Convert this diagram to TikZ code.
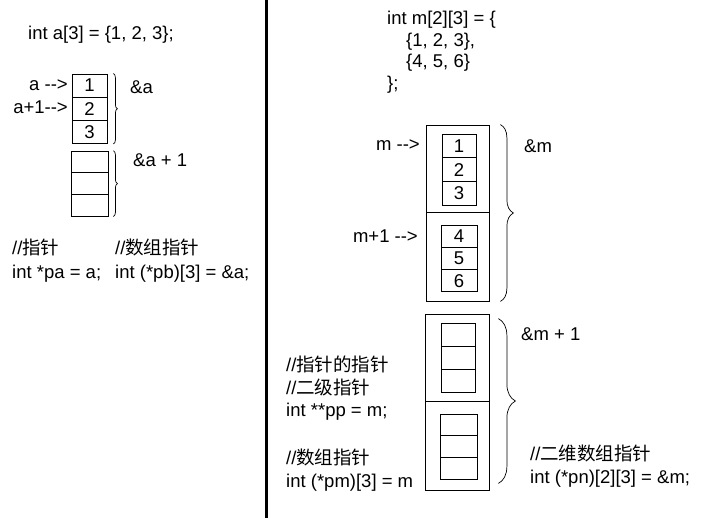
\documentclass[tikz,border=0pt]{standalone}
\usepackage{fontspec}
\setmainfont{Liberation Sans}
\newfontfamily\cjk{Noto Sans CJK SC}
\usetikzlibrary{calc, decorations.pathreplacing}
\newcommand{\codefont}{\fontsize{18.5pt}{22pt}\selectfont}
\newcommand{\ptrarrow}{\mbox{-}\mbox{-}>}
\tikzset{
    cellbox/.style={rectangle, draw, line width=0.8pt, minimum width=35pt,
        minimum height=23pt, inner sep=0pt, font=\codefont},
    rowbox/.style={rectangle, draw, line width=0.8pt, minimum width=63pt, inner sep=0pt},
    codetext/.style={anchor=base west, inner sep=0pt, font=\codefont},
    ptrtext/.style={anchor=base east, inner sep=0pt, font=\codefont},
    bracedeco/.style={decorate, decoration={brace, amplitude=#1}, line width=0.7pt},
}

\begin{document}
\begin{tikzpicture}[x=1pt, y=-1pt]
    \useasboundingbox (0,0) rectangle (704,518);
    \coordinate (divtop) at (266,0);
    \coordinate (divbot) at (266,518);
    \draw[line width=3pt] (divtop) -- (divbot);

    % one-dimensional array
    \node[codetext] (adecl) at (28,39.5) {int a[3] = \{1, 2, 3\};};
    \foreach \v [count=\i] in {1,2,3}
        \node[cellbox] (a\i) at (89.5, 62.2+23.3*\i) {\v};
    \foreach \i in {1,2,3}
        \node[cellbox, minimum width=37pt, minimum height=21.7pt] (b\i) at (89.5, 140.2+21.7*\i) {};
    \node[ptrtext] (aptr) at (68,90.5) {a \ptrarrow};
    \node[ptrtext] (aptrnext) at (68,114) {a+1\ptrarrow};
    \draw[bracedeco=4pt] ($(a1.north east)+(6,0)$) -- ($(a3.south east)+(6,0)$);
    \draw[bracedeco=4pt] ($(b1.north east)+(5,0)$) -- ($(b3.south east)+(5,0)$);
    \node[codetext] (aaddr) at (130,93.5) {\&a};
    \node[codetext] (aaddrnext) at (133,166.5) {\&a + 1};
    \node[codetext] (pacmt) at (12,254.5) {//{\cjk 指针}};
    \node[codetext] (pa) at (12,278.5) {int *pa = a;};
    \node[codetext] (pbcmt) at (115,254.5) {//{\cjk 数组指针}};
    \node[codetext] (pb) at (115,278.5) {int (*pb)[3] = \&a;};

    % two-dimensional array
    \node[codetext] (mdecl) at (387,24.5) {int m[2][3] = \{};
    \node[codetext] (mrow1) at (406,46.5) {\{1, 2, 3\},};
    \node[codetext] (mrow2) at (406,67.5) {\{4, 5, 6\}};
    \node[codetext] (mend) at (387,89.5) {\};};
    \node[rowbox, minimum height=87pt] (m1) at (457.5,168.5) {};
    \node[rowbox, minimum height=89pt] (m2) at (457.5,256.5) {};
    \foreach \v [count=\i] in {1,2,3}
        \node[cellbox, minimum width=34pt, minimum height=23.7pt] (r\i) at (459, 122.2+23.7*\i) {\v};
    \foreach \v [count=\i] in {4,5,6}
        \node[cellbox, minimum width=36pt, minimum height=22.3pt] (s\i) at (459, 213.85+22.3*\i) {\v};
    \node[ptrtext] (mptr) at (420,150.5) {m \ptrarrow};
    \node[ptrtext] (mptrnext) at (418,242.5) {m+1 \ptrarrow};
    \draw[bracedeco=13pt] ($(m1.north east)+(11,0)$) -- ($(m2.south east)+(11,0)$);
    \node[codetext] (maddr) at (524,152.5) {\&m};

    % next block
    \node[rowbox, minimum width=64pt, minimum height=87pt] (n1) at (457,357.5) {};
    \node[rowbox, minimum width=64pt, minimum height=89pt] (n2) at (457,445.5) {};
    \foreach \i in {1,2,3}
        \node[cellbox, minimum width=34pt, minimum height=23.3pt] (t\i) at (458, 311.35+23.3*\i) {};
    \foreach \i in {1,2,3}
        \node[cellbox, minimum width=37pt, minimum height=21.7pt] (u\i) at (458.5, 403.15+21.7*\i) {};
    \draw[bracedeco=17pt] ($(n1.north east)+(9,5)$) -- ($(n2.south east)+(9,-7)$);
    \node[codetext] (maddrnext) at (521,340.5) {\&m + 1};
    \node[codetext] (ppcmt1) at (286,371.5) {//{\cjk 指针的指针}};
    \node[codetext] (ppcmt2) at (286,394.5) {//{\cjk 二级指针}};
    \node[codetext] (pp) at (286,416.5) {int **pp = m;};
    \node[codetext] (pmcmt) at (286,464.5) {//{\cjk 数组指针}};
    \node[codetext] (pm) at (286,487.5) {int (*pm)[3] = m};
    \node[codetext] (pncmt) at (530,460.5) {//{\cjk 二维数组指针}};
    \node[codetext] (pn) at (530,483.5) {int (*pn)[2][3] = \&m;};
\end{tikzpicture}
\end{document}
